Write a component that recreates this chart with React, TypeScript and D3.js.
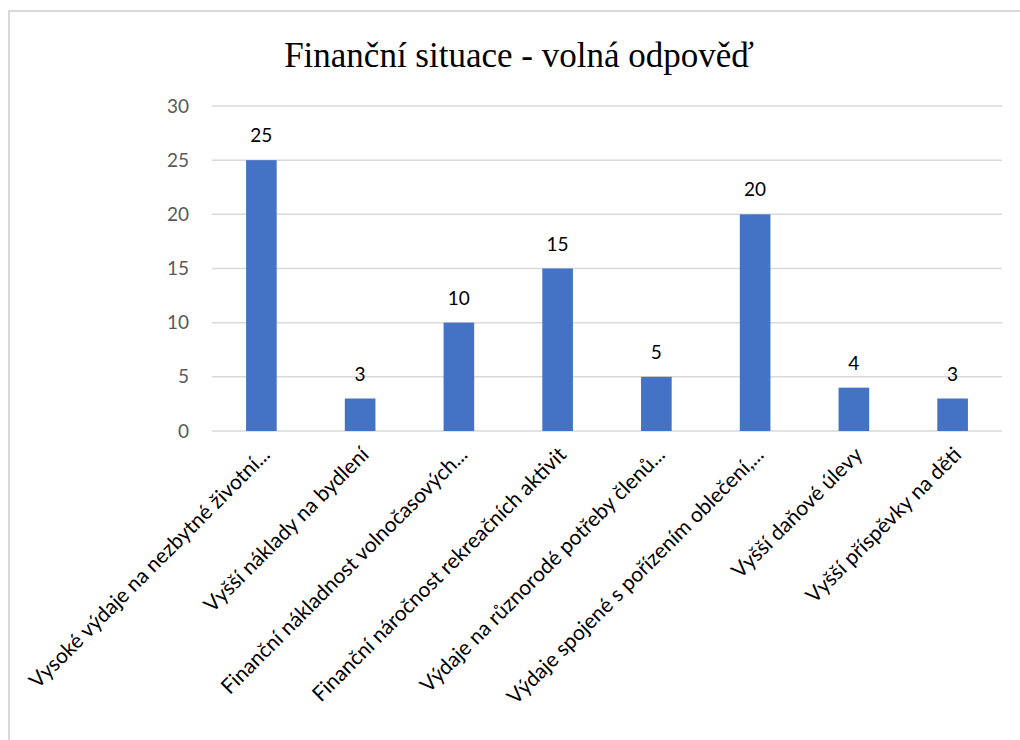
import React, {useEffect, useRef} from 'react';
import * as d3 from 'd3';

const title = 'Finanční situace - volná odpověď';

const categories = [
    'Vysoké výdaje na nezbytné životní...',
    'Vyšší náklady na bydlení',
    'Finanční nákladnost volnočasových...',
    'Finanční náročnost rekreačních aktivit',
    'Výdaje na různorodé potřeby členů...',
    'Výdaje spojené s pořízením oblečení,...',
    'Vyšší daňové úlevy',
    'Vyšší příspěvky na děti',
];

const values = [25, 3, 10, 15, 5, 20, 4, 3];

const yTicks = [0, 5, 10, 15, 20, 25, 30];

function App() {
    const ref = useRef<SVGSVGElement>(null);

    const width = 1020;
    const height = 740;
    const margin = {top: 106, right: 18, bottom: 309, left: 212};

    useEffect(() => {
        const svg = d3.select(ref.current);
        svg.selectAll('*').remove();

        // chart frame
        svg.append('rect')
            .attr('x', 9)
            .attr('y', 11)
            .attr('width', width + 20)
            .attr('height', height + 20)
            .attr('fill', '#ffffff')
            .attr('stroke', '#d9d9d9')
            .attr('stroke-width', 2);

        svg.append('text')
            .attr('x', 519)
            .attr('y', 67)
            .attr('text-anchor', 'middle')
            .attr('font-family', '"Liberation Serif", serif')
            .attr('font-size', 35)
            .attr('fill', '#000000')
            .text(title);

        const x = d3.scaleBand()
            .domain(categories)
            .range([margin.left, width - margin.right])
            .paddingInner(0.69)
            .paddingOuter(0.345);

        const y = d3.scaleLinear()
            .domain([0, 30])
            .range([height - margin.bottom, margin.top]);

        // gridlines
        svg.append('g')
            .selectAll('line')
            .data(yTicks)
            .enter()
            .append('line')
            .attr('x1', margin.left)
            .attr('x2', width - margin.right)
            .attr('y1', (d) => y(d))
            .attr('y2', (d) => y(d))
            .attr('stroke', '#d9d9d9')
            .attr('stroke-width', 1.5);

        // y axis labels
        svg.append('g')
            .selectAll('text')
            .data(yTicks)
            .enter()
            .append('text')
            .attr('x', 189)
            .attr('y', (d) => y(d))
            .attr('dy', '0.35em')
            .attr('text-anchor', 'end')
            .attr('font-family', 'Lato, sans-serif')
            .attr('font-size', 19)
            .attr('fill', '#595959')
            .text((d) => d);

        // bars
        svg.append('g')
            .selectAll('rect')
            .data(values)
            .enter()
            .append('rect')
            .attr('x', (_, i) => x(categories[i]) as number)
            .attr('y', (d) => y(d))
            .attr('width', x.bandwidth())
            .attr('height', (d) => y(0) - y(d))
            .attr('fill', '#4472c4');

        // value labels
        svg.append('g')
            .selectAll('text')
            .data(values)
            .enter()
            .append('text')
            .attr('x', (_, i) => (x(categories[i]) as number) + x.bandwidth() / 2)
            .attr('y', (d) => y(d) - 18)
            .attr('text-anchor', 'middle')
            .attr('font-family', 'Lato, sans-serif')
            .attr('font-size', 19)
            .attr('fill', '#000000')
            .text((d) => d);

        // category labels, rotated
        svg.append('g')
            .selectAll('text')
            .data(categories)
            .enter()
            .append('text')
            .attr('text-anchor', 'end')
            .attr('font-family', 'Lato, sans-serif')
            .attr('font-size', 21)
            .attr('fill', '#000000')
            .attr('transform', (d) => {
                const cx = (x(d) as number) + x.bandwidth() / 2;
                return `translate(${cx + 10}, ${y(0) + 25}) rotate(-45)`;
            })
            .text((d) => d);
    }, []);

    return (
        <svg ref={ref} width={width} height={height}
             style={{position: 'absolute', left: 0, top: 0, background: '#ffffff'}}/>
    );
}

export default App;
